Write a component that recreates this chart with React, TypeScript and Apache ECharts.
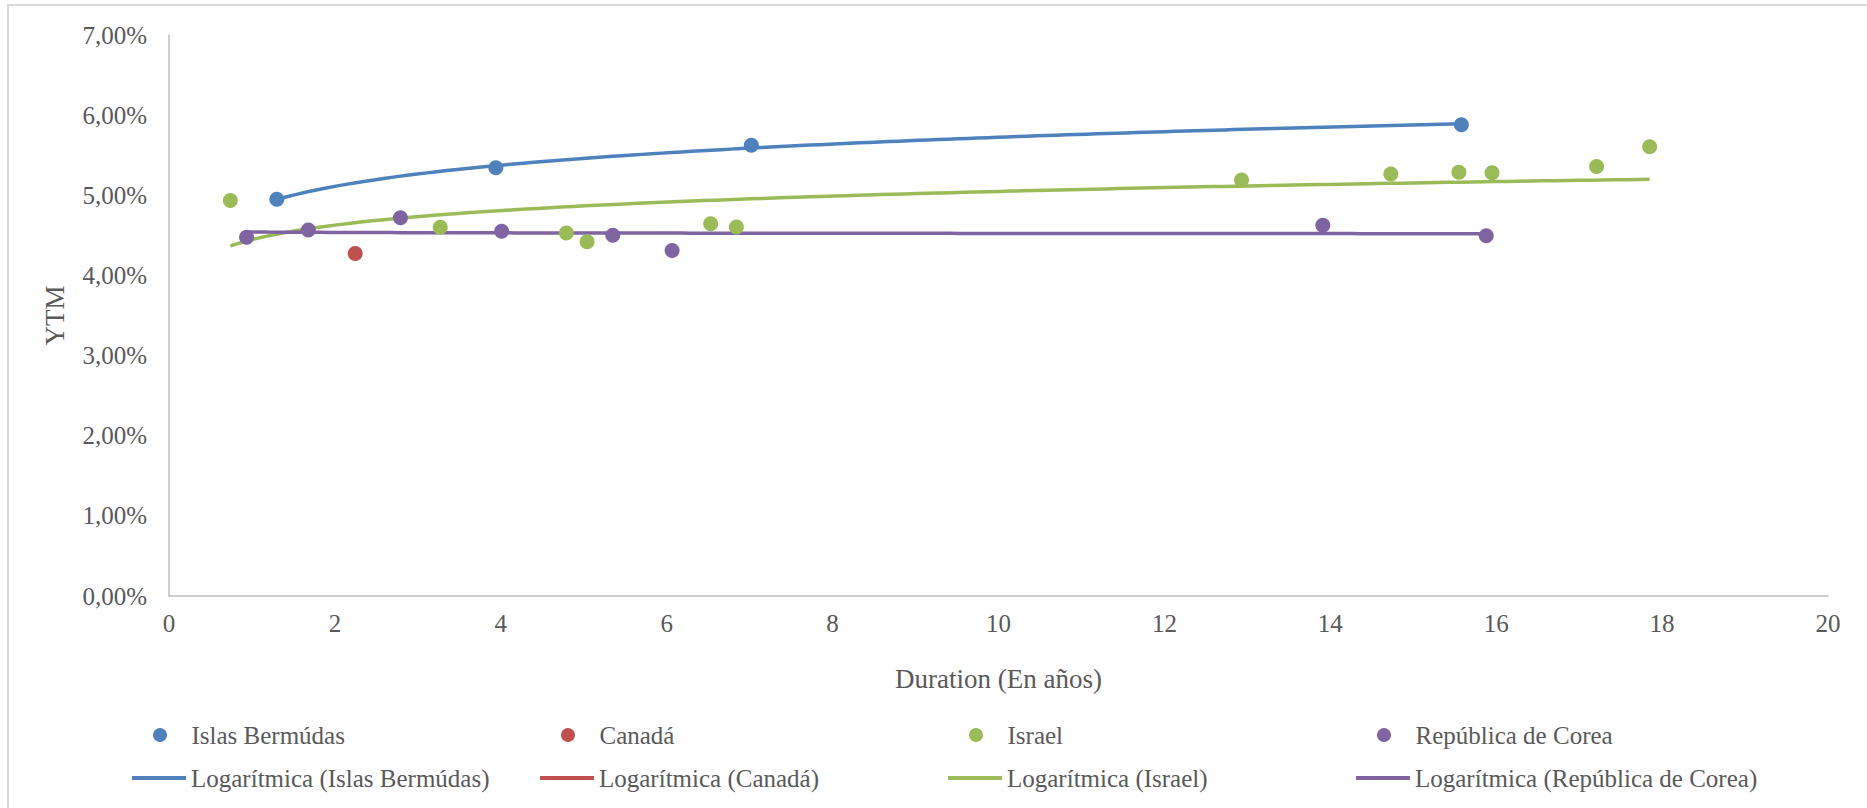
import React, { useEffect, useRef } from "react";
import * as echarts from "echarts";

// Duration (years) and YTM (%)
const bermudasX = [1.3, 3.94, 7.02, 15.58];
const bermudasY = [4.95, 5.345, 5.625, 5.88];
const canadaX = [2.245];
const canadaY = [4.275];
const israelX = [0.74, 3.27, 4.79, 5.04, 6.53, 6.84, 12.93, 14.73, 15.55, 15.95, 17.21, 17.85];
const israelY = [4.935, 4.6, 4.53, 4.42, 4.645, 4.605, 5.19, 5.265, 5.287, 5.28, 5.36, 5.607];
const coreaX = [0.935, 1.68, 2.79, 4.01, 5.35, 6.065, 13.91, 15.88];
const coreaY = [4.476, 4.567, 4.72, 4.55, 4.5, 4.31, 4.627, 4.495];

const seriesNames = ["Islas Bermúdas", "Canadá", "Israel", "República de Corea"];
const trendNames = seriesNames.map((n) => "Logarítmica (" + n + ")");
const colors = ["#4F81BD", "#C0504D", "#9BBB59", "#8064A2"];

const xTicks = { min: 0, max: 20, interval: 2 };
const yTicks = { min: 0, max: 7, interval: 1 };

function pairs(xs: number[], ys: number[]) {
  return xs.map((x, i) => [x, ys[i]]);
}

// Least-squares logarithmic trend y = a + b ln(x), as Excel does
function logTrend(xs: number[], ys: number[]) {
  if (xs.length < 2) return [];
  const lx = xs.map((x) => Math.log(x));
  const n = xs.length;
  const mx = lx.reduce((s, v) => s + v, 0) / n;
  const my = ys.reduce((s, v) => s + v, 0) / n;
  let sxy = 0;
  let sxx = 0;
  for (let i = 0; i < n; i++) {
    sxy += (lx[i] - mx) * (ys[i] - my);
    sxx += (lx[i] - mx) * (lx[i] - mx);
  }
  const b = sxy / sxx;
  const a = my - b * mx;
  const lo = Math.min(...xs);
  const hi = Math.max(...xs);
  const steps = 120;
  const out: number[][] = [];
  for (let k = 0; k <= steps; k++) {
    const x = lo + ((hi - lo) * k) / steps;
    out.push([x, a + b * Math.log(x)]);
  }
  return out;
}

const FONT = "'Liberation Serif', 'Times New Roman', serif";
const TEXT = "#595959";

export default function App() {
  const ref = useRef<HTMLDivElement>(null);
  useEffect(() => {
    if (!ref.current) return;
    const chart = echarts.init(ref.current, undefined, { renderer: "svg" });
    const scatterData = [
      pairs(bermudasX, bermudasY),
      pairs(canadaX, canadaY),
      pairs(israelX, israelY),
      pairs(coreaX, coreaY),
    ];
    const trendData = [
      logTrend(bermudasX, bermudasY),
      logTrend(canadaX, canadaY),
      logTrend(israelX, israelY),
      logTrend(coreaX, coreaY),
    ];
    const dotLeft = [148, 556, 964, 1372];
    const lineLeft = [127, 535, 943, 1351];
    const legends: any[] = [];
    seriesNames.forEach((n, i) => {
      legends.push({
        data: [{ name: n, icon: "circle" }],
        left: dotLeft[i],
        top: 715,
        itemWidth: 53,
        itemHeight: 14,
        selectedMode: false,
        textStyle: { fontFamily: FONT, fontSize: 25, color: TEXT, lineHeight: 30 },
      });
      legends.push({
        data: [{ name: trendNames[i], icon: "rect" }],
        left: lineLeft[i],
        top: 758,
        itemWidth: 54,
        itemHeight: 4,
        selectedMode: false,
        textStyle: { fontFamily: FONT, fontSize: 25, color: TEXT, lineHeight: 30 },
      });
    });
    const series: any[] = [];
    seriesNames.forEach((n, i) => {
      series.push({
        name: trendNames[i],
        type: "line",
        data: trendData[i],
        showSymbol: false,
        symbol: "none",
        color: colors[i],
        lineStyle: { width: 3.5, color: colors[i] },
        z: 2,
      });
    });
    seriesNames.forEach((n, i) => {
      series.push({
        name: n,
        type: "scatter",
        data: scatterData[i],
        symbolSize: 15,
        color: colors[i],
        itemStyle: { color: colors[i], opacity: 1 },
        z: 3,
      });
    });
    chart.setOption({
      animation: false,
      backgroundColor: "#ffffff",
      graphic: [
        {
          type: "rect",
          shape: { x: 8, y: 5, width: 1900, height: 900 },
          style: { fill: "none", stroke: "#D9D9D9", lineWidth: 2 },
          silent: true,
        },
      ],
      legend: legends,
      grid: { left: 169, right: 39, top: 35, bottom: 212, containLabel: false },
      xAxis: {
        type: "value",
        min: xTicks.min,
        max: xTicks.max,
        interval: xTicks.interval,
        name: "Duration (En años)",
        nameLocation: "middle",
        nameGap: 69,
        nameTextStyle: { fontFamily: FONT, fontSize: 27, color: TEXT },
        axisLine: { show: true, lineStyle: { color: "#BFBFBF", width: 1.5 } },
        axisTick: { show: false },
        splitLine: { show: false },
        axisLabel: { fontFamily: FONT, fontSize: 25, color: TEXT, margin: 15 },
      },
      yAxis: {
        type: "value",
        min: yTicks.min,
        max: yTicks.max,
        interval: yTicks.interval,
        name: "YTM",
        nameLocation: "middle",
        nameGap: 101,
        nameRotate: 90,
        nameTextStyle: { fontFamily: FONT, fontSize: 27, color: TEXT },
        axisLine: { show: true, lineStyle: { color: "#BFBFBF", width: 1.5 } },
        axisTick: { show: false },
        splitLine: { show: false },
        axisLabel: {
          fontFamily: FONT,
          fontSize: 25,
          color: TEXT,
          margin: 22,
          formatter: (v: number) => v.toFixed(2).replace(".", ",") + "%",
        },
      },
      series,
    });
    return () => chart.dispose();
  }, []);
  return (
    <div
      ref={ref}
      style={{ position: "absolute", left: 0, top: 0, width: 1867, height: 808, background: "#fff" }}
    />
  );
}
